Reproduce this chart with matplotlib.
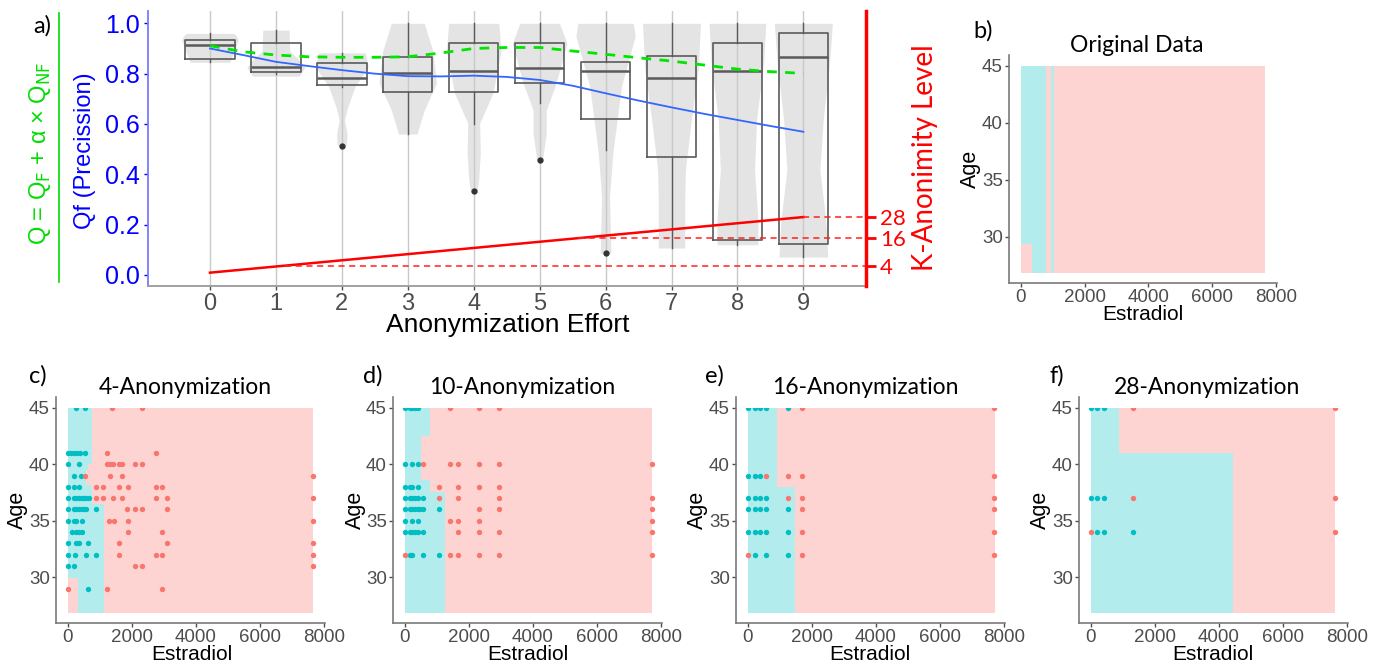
import numpy as np
import matplotlib.pyplot as plt
from matplotlib.lines import Line2D
from matplotlib.patches import Rectangle

W, H = 1389, 662
plt.rcParams['font.family'] = ['Liberation Sans', 'DejaVu Sans']
TITLE_FONT = ['Lato', 'DejaVu Sans']

# ---------------- panel a data ----------------
effort = [0, 1, 2, 3, 4, 5, 6, 7, 8, 9]
box_q1 = [0.857, 0.805, 0.755, 0.726, 0.726, 0.762, 0.620, 0.470, 0.140, 0.123]
box_med = [0.914, 0.825, 0.781, 0.801, 0.812, 0.821, 0.812, 0.781, 0.812, 0.868]
box_q3 = [0.934, 0.923, 0.841, 0.867, 0.923, 0.923, 0.845, 0.869, 0.923, 0.960]
box_lo = [0.845, 0.800, 0.745, 0.560, 0.600, 0.683, 0.497, 0.107, 0.120, 0.073]
box_hi = [0.960, 0.973, 0.883, 1.000, 1.000, 1.000, 1.000, 1.000, 1.000, 1.000]
box_out = [[], [], [0.514], [], [0.334], [0.457], [0.086], [], [], []]

# violin outlines: heights and half widths (effort units)
violin_y = [
    [0.845, 0.88, 0.934, 0.95, 0.96],
    [0.79, 0.825, 0.854, 0.89, 0.973],
    [0.51, 0.52, 0.56, 0.616, 0.669, 0.748, 0.828, 0.883],
    [0.56, 0.655, 0.762, 0.89, 1.0],
    [0.334, 0.377, 0.484, 0.603, 0.722, 0.89, 1.0],
    [0.457, 0.47, 0.563, 0.655, 0.762, 0.92, 1.0],
    [0.086, 0.099, 0.311, 0.484, 0.748, 0.95, 1.0],
    [0.107, 0.285, 0.417, 0.616, 0.814, 1.0],
    [0.12, 0.218, 0.417, 0.616, 0.85, 1.0],
    [0.071, 0.218, 0.417, 0.616, 0.85, 1.0],
]
violin_w = [
    [0.30, 0.354, 0.43, 0.40, 0.36],
    [0.354, 0.44, 0.354, 0.21, 0.20],
    [0.05, 0.07, 0.08, 0.04, 0.09, 0.20, 0.40, 0.354],
    [0.14, 0.25, 0.435, 0.38, 0.25],
    [0.05, 0.075, 0.10, 0.09, 0.29, 0.415, 0.38],
    [0.05, 0.05, 0.10, 0.10, 0.25, 0.415, 0.30],
    [0.08, 0.08, 0.06, 0.11, 0.24, 0.45, 0.42],
    [0.20, 0.20, 0.21, 0.30, 0.405, 0.44],
    [0.31, 0.31, 0.26, 0.29, 0.40, 0.43],
    [0.37, 0.34, 0.25, 0.30, 0.40, 0.44],
]

line_x = [0, 0.5, 1, 1.5, 2, 2.5, 3, 3.5, 4, 4.5, 5, 5.5, 6, 6.5, 7, 7.5, 8, 8.5, 9]
q_total = [0.911, 0.887, 0.874, 0.867, 0.865, 0.865, 0.867, 0.882, 0.900, 0.904,
           0.904, 0.890, 0.877, 0.863, 0.850, 0.834, 0.818, 0.808, 0.801]
qf_smooth = [0.900, 0.874, 0.847, 0.830, 0.814, 0.800, 0.790, 0.789, 0.792, 0.787,
             0.775, 0.752, 0.722, 0.693, 0.666, 0.640, 0.616, 0.592, 0.569]

k_line_x = [0, 9]
k_line_y = [0.009, 0.230]
k_levels = ['4', '16', '28']
k_pos = [0.037, 0.146, 0.230]

# ---------------- panels b-f data ----------------
age_lo, age_hi = 26.8, 45
right_b, right_c, right_d, right_e, right_f = 7656, 7650, 7730, 7730, 7620

# boxes: (x0, x1, y0, y1)
b_cyan = [(0, 780, 26.8, 45), (958, 1042, 26.8, 45)]
b_red = [(0, 340, 26.8, 29.4)]
c_cyan = [(0, 745, 40, 45), (0, 630, 39.5, 40), (0, 555, 38.2, 39.5),
          (0, 745, 36.5, 38.2), (0, 1135, 26.8, 36.5)]
c_red = [(0, 310, 26.8, 29.9)]
d_cyan = [(0, 790, 42.5, 45), (0, 500, 38.6, 42.5), (0, 790, 37.5, 38.6),
          (0, 1265, 26.8, 37.5)]
d_red = []
e_cyan = [(0, 895, 37.95, 45), (0, 1475, 26.8, 37.95)]
e_red = []
f_cyan = [(0, 886, 41, 45), (0, 4440, 26.8, 41)]
f_red = []

# points: (age, [estradiol values])
c_pts_cyan = [(45, [260, 550]), (41, [0, 100, 190, 280, 370, 540]), (40, [0, 345]),
              (39, [190, 400]), (38, [0, 190, 345]),
              (37, [0, 190, 260, 345, 430, 500, 580, 660]),
              (36, [0, 190, 260, 345, 430, 500, 580, 890]), (35, [0, 190, 260, 430]),
              (34, [140, 240, 345, 450]), (33, [0, 260, 345, 640]),
              (32, [0, 220, 555, 890]), (31, [0, 190]), (29, [640])]
c_pts_red = [(45, [1390, 2330]), (41, [1235, 2750]),
             (40, [1235, 1320, 1410, 1600, 1685, 2100, 2330]),
             (39, [550, 1320, 1685, 7660]), (38, [890, 1100, 1600, 1880, 2750, 2940]),
             (37, [890, 1100, 1410, 1685, 2750, 3100, 7660]),
             (36, [1860, 2100, 2330, 3100]), (35, [1285, 1440, 1880, 7660]),
             (34, [1880, 2940]), (33, [1600, 3100, 7660]), (32, [1600, 2750, 2940, 7660]),
             (31, [2100, 2330, 7660]), (29, [0, 1235, 2940])]
d_pts_cyan = [(45, [0, 160, 230, 320, 400]), (40, [0, 233, 402]), (38, [0, 159, 233, 402]),
              (37, [0, 159, 233, 317, 402, 581]),
              (36, [0, 159, 233, 317, 402, 476, 581, 1057]), (35, [0, 233, 402]),
              (34, [0, 159, 233, 317, 402, 581]), (32, [159, 233, 581, 1057])]
d_pts_red = [(45, [1395, 2325, 2938]), (40, [581, 1395, 1670, 2325, 2938, 7716]),
             (38, [1057, 1670, 2325, 2938]), (37, [1057, 1670, 2938, 7716]),
             (36, [2325, 2938, 7716]), (35, [1395, 1670, 2325, 7716]),
             (34, [1670, 2325, 2938, 7716]), (32, [0, 1395, 1670, 2325, 2938, 7716])]
e_pts_cyan = [(45, [0, 222, 369, 559, 1266]), (39, [0, 222, 369]), (37, [0, 222, 369, 559]),
              (36, [0, 222, 369, 559, 1266]), (34, [0, 222, 369, 559, 1266]),
              (32, [222, 559, 1266])]
e_pts_red = [(45, [1698, 7700]), (39, [559, 1266, 1698, 7700]), (37, [1266, 1698, 7700]),
             (36, [1698, 7700]), (34, [1698, 7700]), (32, [0, 1698, 7700])]
f_pts_cyan = [(45, [0, 188, 417]), (37, [0, 188, 417]), (34, [188, 417, 1313])]
f_pts_red = [(45, [1313, 7617]), (37, [1313, 7617]), (34, [0, 7617])]

CYAN_BG, RED_BG = '#b3ecec', '#fdd4d2'
CYAN_PT, RED_PT = '#00BFC4', '#F8766D'


def px_rect(l, t, r, b):
    return [l / W, 1 - b / H, (r - l) / W, (b - t) / H]


def ftext(x, y, s, **kw):
    fig.text(x / W, 1 - y / H, s, ha=kw.pop('ha', 'center'), va=kw.pop('va', 'center'), **kw)


fig = plt.figure(figsize=(W / 100, H / 100), dpi=100)

# ================= panel a =================
ax = fig.add_axes(px_rect(148, 11, 866, 286))
ax.set_xlim(-0.94, 9.95)
ax.set_ylim(-0.044, 1.049)
for e in effort:
    ax.axvline(e, color='#c9c9c9', lw=1, zorder=1)
for e, vy, vw in zip(effort, violin_y, violin_w):
    vw = np.array(vw)
    ax.fill_betweenx(vy, e - vw, e + vw, color='#e4e4e4', lw=0, zorder=0.5)

stats = [dict(med=m, q1=a, q3=b, whislo=lo, whishi=hi, fliers=f)
         for m, a, b, lo, hi, f in zip(box_med, box_q1, box_q3, box_lo, box_hi, box_out)]
bp = ax.bxp(stats, positions=effort, widths=0.75, showcaps=False, manage_ticks=False,
            boxprops=dict(color='#5a5a5a', lw=1.2),
            medianprops=dict(color='#5a5a5a', lw=1.8),
            whiskerprops=dict(color='#5a5a5a', lw=1.0),
            flierprops=dict(marker='o', ms=3.5, mfc='#333333', mec='#333333'))
for key in bp:
    for art in bp[key]:
        art.set_zorder(3)

ax.plot(line_x, q_total, color='#00e600', lw=2, dashes=(3.5, 3), zorder=5)
ax.plot(line_x, qf_smooth, color='#3366ff', lw=1.3, zorder=5)
ax.plot(k_line_x, k_line_y, color='#ff0000', lw=1.8, zorder=6)
for p in k_pos:
    xs = np.interp(p, k_line_y, k_line_x)
    ax.plot([xs, 9.95], [p, p], color='#ff2020', lw=1.1, dashes=(4, 3), zorder=6, clip_on=False)

ax.set_xticks(effort)
ax.set_xticklabels([str(e) for e in effort])
ax.set_yticks([0, 0.2, 0.4, 0.6, 0.8, 1.0])
ax.set_yticklabels(['0.0', '0.2', '0.4', '0.6', '0.8', '1.0'])
ax.tick_params(axis='x', colors='#4d4d4d', labelsize=17, length=3, width=1, pad=2)
ax.tick_params(axis='y', colors='#0000ff', labelsize=18, length=3, width=1, pad=3)
for s in ['top', 'right']:
    ax.spines[s].set_visible(False)
ax.spines['left'].set_color('#7a7aff')
ax.spines['left'].set_linewidth(1.3)
ax.spines['bottom'].set_color('#9a9a9a')
ax.spines['bottom'].set_linewidth(1.3)

ax2 = ax.twinx()
ax2.set_ylim(ax.get_ylim())
ax2.set_yticks(k_pos)
ax2.set_yticklabels(k_levels, fontfamily=TITLE_FONT)
ax2.tick_params(axis='y', colors='#ff0000', labelsize=16, length=7, width=2, pad=3)
for s in ['top', 'left', 'bottom']:
    ax2.spines[s].set_visible(False)
ax2.spines['right'].set_color('#ff0000')
ax2.spines['right'].set_linewidth(2.5)

ftext(508, 325, 'Anonymization Effort', fontsize=19)
ftext(85, 151, 'Qf (Precission)', fontsize=17, color='#0000ff', rotation=90)
ftext(40, 153, r'Q = Q$_{\mathrm{F}}$ + α × Q$_{\mathrm{NF}}$', fontsize=17,
      color='#00dd00', rotation=90)
fig.add_artist(Line2D([59 / W, 59 / W], [1 - 13 / H, 1 - 282 / H], color='#00dd00', lw=1.2))
ftext(925, 158, 'K-Anonimity Level', fontsize=20, color='#ff0000', rotation=90,
      fontfamily=TITLE_FONT)
ftext(42, 26, 'a)', fontsize=17, fontfamily=TITLE_FONT)


# ================= panels b-f =================
def region_panel(rect, right, cyan_boxes, red_boxes, pts_cyan, pts_red,
                 title, title_xy, letter, letter_xy, age_x, est_xy):
    a = fig.add_axes(px_rect(*rect))
    a.set_xlim(-370, 8030)
    a.set_ylim(25.95, 45.95)
    a.bar(0, age_hi - age_lo, width=right, bottom=age_lo, align='edge',
          color=RED_BG, lw=0, zorder=1)
    for x0, x1, y0, y1 in cyan_boxes:
        a.bar(x0, y1 - y0, width=x1 - x0, bottom=y0, align='edge', color=CYAN_BG, lw=0, zorder=1)
    for x0, x1, y0, y1 in red_boxes:
        a.bar(x0, y1 - y0, width=x1 - x0, bottom=y0, align='edge', color=RED_BG, lw=0, zorder=1)
    clip = Rectangle((-370, 25.95), 8400, age_hi - 25.95, transform=a.transData)
    for rows, col in [(pts_cyan, CYAN_PT), (pts_red, RED_PT)]:
        xs = [x for ag, row in rows for x in row]
        ys = [ag for ag, row in rows for x in row]
        if xs:
            sc = a.scatter(xs, ys, s=15, color=col, lw=0, zorder=3)
            sc.set_clip_path(clip)
    a.set_xticks([0, 2000, 4000, 6000, 8000])
    a.set_yticks([30, 35, 40, 45])
    a.tick_params(colors='#4d4d4d', labelsize=13.5, length=3, width=1, pad=1.5)
    for s in ['top', 'right']:
        a.spines[s].set_visible(False)
    for s in ['left', 'bottom']:
        a.spines[s].set_color('#7a7a7a')
        a.spines[s].set_linewidth(1.2)
    ymid = (rect[1] + rect[3]) / 2
    ftext(age_x, ymid, 'Age', fontsize=15.5, rotation=90)
    ftext(est_xy[0], est_xy[1], 'Estradiol', fontsize=15)
    ftext(title_xy[0], title_xy[1], title, fontsize=16.5, fontfamily=TITLE_FONT)
    ftext(letter_xy[0], letter_xy[1], letter, fontsize=17, fontfamily=TITLE_FONT)
    return a


region_panel((1009, 55, 1277, 283), right_b, b_cyan, b_red, [], [],
             'Original Data', (1137, 46), 'b)', (983, 31), 970, (1143, 315))
region_panel((56, 397, 325, 623), right_c, c_cyan, c_red, c_pts_cyan, c_pts_red,
             '4-Anonymization', (185, 387), 'c)', (38, 376), 17, (192, 655))
region_panel((393, 397, 662, 623), right_d, d_cyan, d_red, d_pts_cyan, d_pts_red,
             '10-Anonymization', (522, 387), 'd)', (373, 376), 355, (528, 655))
region_panel((736, 397, 1005, 623), right_e, e_cyan, e_red, e_pts_cyan, e_pts_red,
             '16-Anonymization', (865, 387), 'e)', (714, 376), 697, (870, 655))
region_panel((1079, 397, 1348, 623), right_f, f_cyan, f_red, f_pts_cyan, f_pts_red,
             '28-Anonymization', (1207, 387), 'f)', (1057, 376), 1040, (1213, 655))

fig.savefig('out.png', dpi=100)
